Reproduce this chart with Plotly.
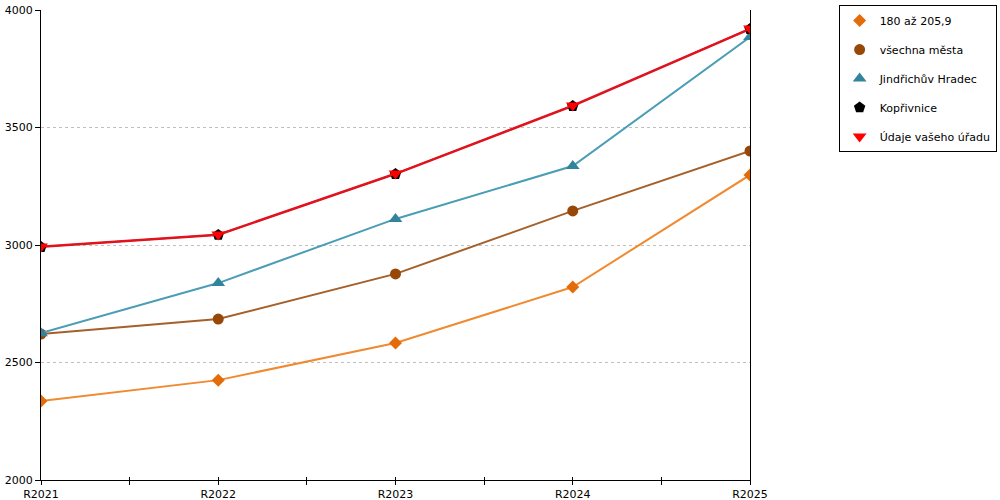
import plotly.graph_objects as go

categories = ["R2021", "R2022", "R2023", "R2024", "R2025"]
series_names = ["180 až 205,9", "všechna města", "Jindřichův Hradec", "Kopřivnice", "Údaje vašeho úřadu"]
v_180 = [2336, 2425, 2583, 2821, 3298]
v_mesta = [2621, 2685, 2877, 3145, 3400]
v_jh = [2625, 2838, 3111, 3336, 3885]
v_kop = [2991, 3043, 3302, 3591, 3919]
v_urad = [2994, 3045, 3304, 3594, 3921]
y_ticks = [2000, 2500, 3000, 3500, 4000]

series = [v_180, v_mesta, v_jh, v_kop, v_urad]
line_colors = ["#F08A30", "#A5602A", "#4A9DB5", "#E0141E", "#E0141E"]
marker_colors = ["#E36C09", "#974806", "#31849B", "#000000", "#FF0000"]
symbols = ["diamond", "circle", "triangle-up", "pentagon", "triangle-down"]
sizes = [10, 11, 12, 12, 12]

xs = list(range(len(categories)))
fig = go.Figure()

for i, vals in enumerate(series):
    fig.add_trace(go.Scatter(
        x=xs, y=vals, mode="lines", showlegend=False, hoverinfo="skip",
        line=dict(color=line_colors[i], width=2)))
    fig.add_trace(go.Scatter(
        x=xs, y=vals, mode="markers", name=series_names[i], legendgroup=f"g{i}",
        marker=dict(symbol=symbols[i], size=sizes[i], color=marker_colors[i],
                    line=dict(width=0))))

half_ticks = [i + 0.5 for i in range(len(categories) - 1)]

fig.update_layout(
    width=1000, height=500,
    margin=dict(l=41, r=250, t=10, b=20, autoexpand=False),
    paper_bgcolor="white", plot_bgcolor="white",
    font=dict(family="DejaVu Sans", size=11, color="#000000"),
    legend=dict(
        x=1.125, xanchor="left", y=1.0106, yanchor="top",
        bordercolor="#000000", borderwidth=1, bgcolor="white",
        font=dict(family="DejaVu Sans", size=11),
        tracegroupgap=10, itemwidth=30,
    ),
    xaxis=dict(
        range=[0, len(categories) - 1], tickvals=xs, ticktext=categories,
        showgrid=False, zeroline=False, showline=True, linecolor="#000000", linewidth=1,
        ticks="outside", ticklen=4, tickcolor="#000000",
        minor=dict(tickvals=half_ticks, ticks="outside", ticklen=4, tickcolor="#000000"),
        tickfont=dict(size=11), mirror=False, automargin=False,
    ),
    xaxis2=dict(
        range=[0, len(categories) - 1], tickvals=xs, ticktext=["" for _ in categories],
        overlaying="x", side="bottom", showgrid=False, zeroline=False, showline=False,
        ticks="inside", ticklen=3, tickcolor="#000000",
        minor=dict(tickvals=half_ticks, ticks="inside", ticklen=3, tickcolor="#000000"),
        showticklabels=False, automargin=False,
    ),
    yaxis=dict(
        range=[2000, 4000], tickvals=y_ticks,
        showgrid=True, gridcolor="#C0C0C0", griddash="dot", gridwidth=1,
        zeroline=False, showline=True, linecolor="#000000", linewidth=1, mirror=True,
        ticks="outside", ticklen=5, tickcolor="#000000", tickfont=dict(size=11),
        automargin=False,
    ),
)
fig.add_trace(go.Scatter(x=[0], y=[2000], xaxis="x2", mode="markers",
                         marker=dict(opacity=0), showlegend=False, hoverinfo="skip"))

fig.write_html("out.html", config={"displayModeBar": False},
               post_script="document.body.style.margin='0';")
